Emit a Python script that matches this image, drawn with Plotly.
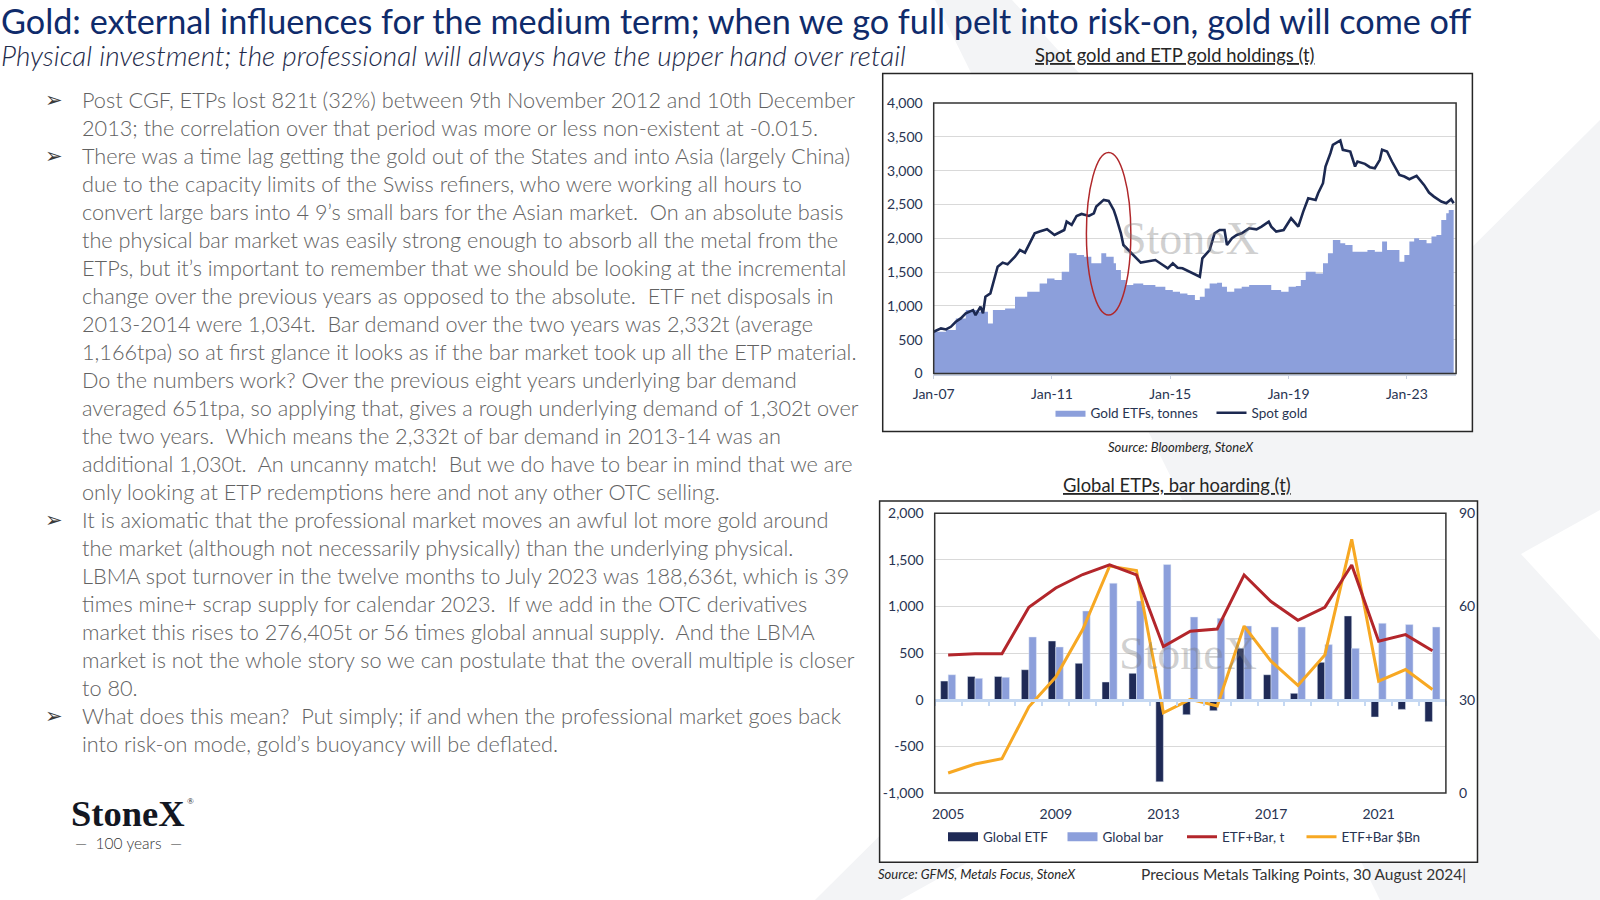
import plotly.graph_objects as go

W, H = 1600, 900

# ---------------- DATA ----------------
spot_dates = ["2007-01", "2007-04", "2007-06", "2007-08", "2007-10", "2007-12", "2008-02", "2008-05", "2008-06",
              "2008-08", "2008-09", "2008-10", "2008-12", "2009-02", "2009-03", "2009-05", "2009-07", "2009-10",
              "2009-12", "2010-02", "2010-04", "2010-06", "2010-08", "2010-11", "2011-02", "2011-06", "2011-07",
              "2011-09", "2011-11", "2012-01", "2012-04", "2012-06", "2012-07", "2012-10", "2012-12", "2013-02",
              "2013-03", "2013-05", "2013-06", "2013-08", "2013-10", "2014-01", "2014-03", "2014-05", "2014-07",
              "2014-10", "2014-12", "2015-02", "2015-04", "2015-06", "2015-09", "2015-11", "2016-01", "2016-02",
              "2016-05", "2016-07", "2016-09", "2016-11", "2016-12", "2017-02", "2017-04", "2017-06", "2017-09",
              "2017-12", "2018-02", "2018-05", "2018-06", "2018-08", "2018-11", "2019-02", "2019-04", "2019-05",
              "2019-07", "2019-09", "2019-12", "2020-01", "2020-03", "2020-04", "2020-06", "2020-07", "2020-10",
              "2020-11", "2021-02", "2021-04", "2021-05", "2021-08", "2021-10", "2021-12", "2022-02", "2022-03",
              "2022-05", "2022-07", "2022-10", "2022-12", "2023-02", "2023-05", "2023-08", "2023-10", "2023-12",
              "2024-03", "2024-05", "2024-07", "2024-08"]
spot_gold = [617, 667, 652, 691, 765, 815, 889, 938, 864,
             988, 889, 1136, 1185, 1432, 1580, 1640, 1615, 1728,
             1827, 1788, 1926, 2074, 2099, 2133, 2049, 2123, 2247,
             2198, 2331, 2360, 2331, 2370, 2469, 2568, 2553, 2420,
             2321, 2074, 1901, 1827, 1738, 1640, 1654, 1669, 1679,
             1605, 1556, 1630, 1565, 1556, 1506, 1472, 1432, 1704,
             1827, 2074, 2123, 2123, 1901, 2000, 2049, 2074, 2148,
             2133, 2173, 2247, 2173, 2099, 2123, 2296, 2222, 2173,
             2395, 2593, 2568, 2667, 2815, 3062, 3259, 3383, 3447,
             3309, 3284, 3062, 3136, 3101, 3052, 3037, 3160, 3309,
             3284, 3136, 2938, 2914, 2874, 2923, 2790, 2677, 2617,
             2543, 2519, 2578, 2519]

etf_dates = ["2007-01", "2007-06", "2007-10", "2008-02", "2008-07", "2008-11", "2009-01", "2009-06", "2009-10",
             "2010-03", "2010-08", "2010-11", "2011-02", "2011-05", "2011-08", "2011-11", "2012-02", "2012-05",
             "2012-09", "2012-11", "2013-02", "2013-03", "2013-05", "2013-07", "2013-10", "2014-02", "2014-05",
             "2014-07", "2014-11", "2015-02", "2015-05", "2015-08", "2015-11", "2016-01", "2016-03", "2016-05",
             "2016-08", "2016-10", "2016-12", "2017-03", "2017-06", "2017-09", "2017-12", "2018-03", "2018-06",
             "2018-10", "2019-01", "2019-04", "2019-06", "2019-08", "2019-12", "2020-03", "2020-05", "2020-07",
             "2020-10", "2020-12", "2021-03", "2021-06", "2021-09", "2021-12", "2022-03", "2022-05", "2022-10",
             "2022-12", "2023-02", "2023-04", "2023-06", "2023-09", "2023-11", "2024-01", "2024-03", "2024-05",
             "2024-06", "2024-08"]
etf_tonnes = [617, 642, 815, 938, 914, 741, 938, 963, 1136,
              1210, 1333, 1407, 1383, 1506, 1778, 1753, 1728, 1630,
              1778, 1728, 1630, 1531, 1383, 1309, 1333, 1309, 1309,
              1284, 1235, 1210, 1185, 1160, 1086, 1136, 1259, 1333,
              1343, 1284, 1210, 1259, 1284, 1309, 1309, 1309, 1235,
              1210, 1284, 1294, 1383, 1506, 1481, 1630, 1778, 1975,
              1926, 1901, 1802, 1802, 1827, 1802, 1951, 1827, 1654,
              1753, 1951, 2000, 1975, 1926, 2025, 2049, 2272, 2370,
              2420, 2444]

top_xticks = ["2007-01-01", "2011-01-01", "2015-01-01", "2019-01-01", "2023-01-01"]
top_xtick_labels = ["Jan-07", "Jan-11", "Jan-15", "Jan-19", "Jan-23"]

years = list(range(2005, 2024))
global_etf = [200, 250, 250, 322, 630, 390, 190, 283, -881, -161, -118, 551, 268, 68, 401, 899, -186, -104, -236]
global_bar = [268, 229, 240, 673, 566, 952, 1250, 1060, 1450, 888, 874, 791, 780, 780, 591, 551, 820, 806, 780]
etf_bar_t = [480, 494, 494, 992, 1199, 1343, 1446, 1339, 569, 734, 759, 1339, 1053, 852, 992, 1446, 627, 698, 526]
etf_bar_bn = [6.4, 9.3, 11.0, 27.7, 37.3, 52.6, 73.0, 71.6, 25.8, 30.1, 28.0, 53.7, 42.4, 34.6, 44.4, 81.6, 36.0, 39.7, 33.3]

bottom_xticks = [2005, 2009, 2013, 2017, 2021]
category_edges = [y - 0.5 for y in years] + [years[-1] + 0.5]
left_ticks = [-1000, -500, 0, 500, 1000, 1500, 2000]
left_tick_labels = ["-1,000", "-500", "0", "500", "1,000", "1,500", "2,000"]
right_ticks = [0, 30, 60, 90]

bullet_lines = [
    "Post CGF, ETPs lost 821t (32%) between 9th November 2012 and 10th December",
    "2013; the correlation over that period was more or less non-existent at -0.015.",
    "There was a time lag getting the gold out of the States and into Asia (largely China)",
    "due to the capacity limits of the Swiss refiners, who were working all hours to",
    "convert large bars into 4 9’s small bars for the Asian market.  On an absolute basis",
    "the physical bar market was easily strong enough to absorb all the metal from the",
    "ETPs, but it’s important to remember that we should be looking at the incremental",
    "change over the previous years as opposed to the absolute.  ETF net disposals in",
    "2013-2014 were 1,034t.  Bar demand over the two years was 2,332t (average",
    "1,166tpa) so at first glance it looks as if the bar market took up all the ETP material.",
    "Do the numbers work? Over the previous eight years underlying bar demand",
    "averaged 651tpa, so applying that, gives a rough underlying demand of 1,302t over",
    "the two years.  Which means the 2,332t of bar demand in 2013-14 was an",
    "additional 1,030t.  An uncanny match!  But we do have to bear in mind that we are",
    "only looking at ETP redemptions here and not any other OTC selling.",
    "It is axiomatic that the professional market moves an awful lot more gold around",
    "the market (although not necessarily physically) than the underlying physical.",
    "LBMA spot turnover in the twelve months to July 2023 was 188,636t, which is 39",
    "times mine+ scrap supply for calendar 2023.  If we add in the OTC derivatives",
    "market this rises to 276,405t or 56 times global annual supply.  And the LBMA",
    "market is not the whole story so we can postulate that the overall multiple is closer",
    "to 80.",
    "What does this mean?  Put simply; if and when the professional market goes back",
    "into risk-on mode, gold’s buoyancy will be deflated.",
]
bullet_starts = [0, 2, 15, 22]

# ---------------- STYLE ----------------
FONT = "Lato, 'Open Sans', sans-serif"
NAVY = "#1c2951"
DARKBAR = "#1f2a56"
LIGHT = "#8c9fdb"
RED = "#b3262b"
ORANGE = "#f7a823"
TICK = "#283452"
GRID = "#d9d9d9"
ZERO = "#c5d8f2"


def px(x):
    return x / W


def py(y):
    return 1 - y / H


# bottom plot area (pixels) and paper position of its zero line
B_TOP, B_BOT = 513.3, 792.9
zero_paper = py(B_BOT) + (py(B_TOP) - py(B_BOT)) * (0 - left_ticks[0]) / (left_ticks[-1] - left_ticks[0])

fig = go.Figure()

# top chart
fig.add_trace(go.Scatter(x=etf_dates, y=etf_tonnes, name="Gold ETFs, tonnes", mode="lines",
                         line=dict(width=0, shape="hv", color=LIGHT), fill="tozeroy", fillcolor=LIGHT,
                         xaxis="x", yaxis="y", legend="legend"))
fig.add_trace(go.Scatter(x=spot_dates, y=spot_gold, name="Spot gold", mode="lines",
                         line=dict(width=2.6, color=NAVY), xaxis="x", yaxis="y", legend="legend"))

# bottom chart
fig.add_trace(go.Bar(x=years, y=global_etf, name="Global ETF", marker_color=DARKBAR, showlegend=False,
                     xaxis="x2", yaxis="y2", offsetgroup="a"))
fig.add_trace(go.Bar(x=years, y=global_bar, name="Global bar", marker_color=LIGHT, showlegend=False,
                     xaxis="x2", yaxis="y2", offsetgroup="b"))
# legend entries with wide swatches for the bars
fig.add_trace(go.Scatter(x=[None], y=[None], name="Global ETF", mode="lines",
                         line=dict(width=9, color=DARKBAR), xaxis="x2", yaxis="y2", legend="legend2"))
fig.add_trace(go.Scatter(x=[None], y=[None], name="Global bar", mode="lines",
                         line=dict(width=9, color=LIGHT), xaxis="x2", yaxis="y2", legend="legend2"))
fig.add_trace(go.Scatter(x=years, y=etf_bar_t, name="ETF+Bar, t", mode="lines",
                         line=dict(width=3, color=RED), xaxis="x3", yaxis="y2", legend="legend2"))
fig.add_trace(go.Scatter(x=years, y=etf_bar_bn, name="ETF+Bar $Bn", mode="lines",
                         line=dict(width=3, color=ORANGE), xaxis="x2", yaxis="y3", legend="legend2"))

tickfont = dict(family=FONT, size=14, color=TICK)

layout = dict(
    width=W, height=H, margin=dict(l=0, r=0, t=0, b=0, pad=0, autoexpand=False),
    paper_bgcolor="white", plot_bgcolor="rgba(0,0,0,0)",
    showlegend=True, barmode="group", bargap=0.44, bargroupgap=0,
    xaxis=dict(domain=[px(933.7), px(1456.1)], type="date", automargin=False,
               range=["2007-01-01", "2024-08-31"], tickvals=top_xticks, ticktext=top_xtick_labels,
               showgrid=False, showline=True, linecolor="#c8d0e0", linewidth=1.5,
               ticks="outside", ticklen=4, tickcolor="#c8d0e0", tickfont=tickfont,
               ticklabelstandoff=3, anchor="y", zeroline=False),
    yaxis=dict(domain=[py(373.5), py(103.1)], range=[0, 4000], dtick=500, tickformat=",",
               showgrid=True, gridcolor=GRID, gridwidth=1, zeroline=False, tickfont=tickfont,
               ticklabelstandoff=10, anchor="x", automargin=False),
    xaxis2=dict(domain=[px(934.7), px(1445.9)], range=[2004.5, 2023.5], tickvals=bottom_xticks,
                showgrid=False, zeroline=False, tickfont=tickfont, anchor="y2",
                ticklabelstandoff=11, automargin=False),
    # axis drawn along the zero line, with category tick marks
    xaxis3=dict(overlaying="x2", anchor="free", position=zero_paper, range=[2004.5, 2023.5],
                tickvals=category_edges, ticks="outside", ticklen=5, tickwidth=1.5, tickcolor=ZERO,
                showline=True, linecolor=ZERO, linewidth=2.5, showticklabels=False,
                showgrid=False, zeroline=False, automargin=False),
    yaxis2=dict(domain=[py(B_BOT), py(B_TOP)], range=[left_ticks[0], left_ticks[-1]], tickvals=left_ticks,
                ticktext=left_tick_labels, showgrid=True, gridcolor=GRID, gridwidth=1,
                zeroline=False, tickfont=tickfont, ticklabelstandoff=10, anchor="x2", automargin=False),
    yaxis3=dict(overlaying="y2", side="right", range=[0, 90], tickvals=right_ticks,
                showgrid=False, zeroline=False, tickfont=tickfont, ticklabelstandoff=12,
                anchor="x2", automargin=False),
    legend=dict(orientation="h", x=px(1050.5), xanchor="left", y=py(413), yanchor="middle",
                font=dict(family=FONT, size=13.5, color=TICK), bgcolor="rgba(0,0,0,0)",
                itemwidth=30, tracegroupgap=0, entrywidth=116, entrywidthmode="pixels"),
    legend2=dict(orientation="h", x=px(943), xanchor="left", y=py(837), yanchor="middle",
                 font=dict(family=FONT, size=13.5, color=TICK), bgcolor="rgba(0,0,0,0)",
                 itemwidth=30, tracegroupgap=0, entrywidth=74.5, entrywidthmode="pixels"),
)
fig.update_layout(**layout)

shapes = []
WM = "#f3f4f6"
# faint X watermark in background
shapes.append(dict(type="path", xref="paper", yref="paper", layer="below",
                   path=f"M {px(935)} {py(0)} L {px(1012)} {py(0)} L {px(1600)} {py(640)} L {px(1600)} {py(900)} "
                        f"L {px(1380)} {py(900)} Z",
                   fillcolor=WM, line=dict(width=0)))
shapes.append(dict(type="path", xref="paper", yref="paper", layer="below",
                   path=f"M {px(1600)} {py(120)} L {px(1600)} {py(510)} L {px(900)} {py(900)} L {px(815)} {py(900)} Z",
                   fillcolor=WM, line=dict(width=0)))
# chart boxes
shapes.append(dict(type="rect", xref="paper", yref="paper", layer="below",
                   x0=px(882.7), x1=px(1472.4), y0=py(431.6), y1=py(73.5),
                   fillcolor="white", line=dict(color="#262626", width=1.5)))
shapes.append(dict(type="rect", xref="paper", yref="paper", layer="below",
                   x0=px(879.6), x1=px(1477.5), y0=py(862.2), y1=py(501),
                   fillcolor="white", line=dict(color="#262626", width=1.5)))
# plot-area frames
shapes.append(dict(type="rect", xref="x domain", yref="y domain", x0=0, x1=1, y0=0, y1=1,
                   layer="above", line=dict(color="#333333", width=1.5)))
shapes.append(dict(type="rect", xref="x2 domain", yref="y2 domain", x0=0, x1=1, y0=0, y1=1,
                   layer="above", line=dict(color="#333333", width=1.5)))
# red ellipse highlight
shapes.append(dict(type="circle", xref="x", yref="y", x0="2012-03-01", x1="2013-09-01", y0=864, y1=3269,
                   layer="above", line=dict(color="#b0282b", width=1.5)))

annotations = []


def text(x, y, s, size, color, xanchor="left", italic=False, family=FONT, weight=None, underline=False):
    if underline:
        s = f"<u>{s}</u>"
    f = dict(family=family, size=size, color=color)
    if italic:
        f["style"] = "italic"
    if weight:
        f["weight"] = weight
    annotations.append(dict(x=px(x), y=py(y), xref="paper", yref="paper", text=s, showarrow=False,
                            xanchor=xanchor, yanchor="middle", font=f, align="left", borderpad=0))


text(0, 21, "Gold: external influences for the medium term; when we go full pelt into risk-on, gold will come off",
     34.2, "#0f2b6b")
text(0, 55, "Physical investment; the professional will always have the upper hand over retail",
     28, "#1e2b4a", italic=True, weight=300)

for i, line in enumerate(bullet_lines):
    y = 100 + i * 28.0
    text(81, y, line.replace("  ", "\u00a0 "), 21.7, "#626262", weight=300)
    if i in bullet_starts:
        text(44, y, "➢", 21, "#3a3a3a", family="DejaVu Sans")

text(1175, 55, "Spot gold and ETP gold holdings (t)", 18.4, "#262626", xanchor="center", underline=True)
text(1177, 485, "Global ETPs, bar hoarding (t)", 18.4, "#262626", xanchor="center", underline=True)
text(1181, 447, "Source: Bloomberg, StoneX", 13, "#262626", xanchor="center", italic=True)
text(877, 874, "Source: GFMS, Metals Focus, StoneX", 13, "#262626", italic=True)
text(1467, 874, "Precious Metals Talking Points, 30 August 2024|", 15.5, "#333333", xanchor="right")

# logo
text(70, 813, "StoneX", 36.5, "#131722", family="'Liberation Serif', serif", weight=700)
text(186, 801, "®", 9, "#131722", family="'Liberation Serif', serif")
text(128, 843, "—  100 years  —", 15.5, "#333333", xanchor="center", weight=300)

# chart watermarks
annotations.append(dict(x="2015-09-01", y=2000, xref="x", yref="y", text="StoneX", showarrow=False,
                        font=dict(family="'Liberation Serif', serif", size=46, color="rgba(120,120,120,0.35)")))
annotations.append(dict(x=2013.9, y=500, xref="x2", yref="y2", text="StoneX", showarrow=False,
                        font=dict(family="'Liberation Serif', serif", size=46, color="rgba(120,120,120,0.35)")))

fig.update_layout(shapes=shapes, annotations=annotations)
fig.write_html("out.html", config={"displayModeBar": False},
               post_script="document.body.style.margin='0';document.body.style.overflow='hidden';")
